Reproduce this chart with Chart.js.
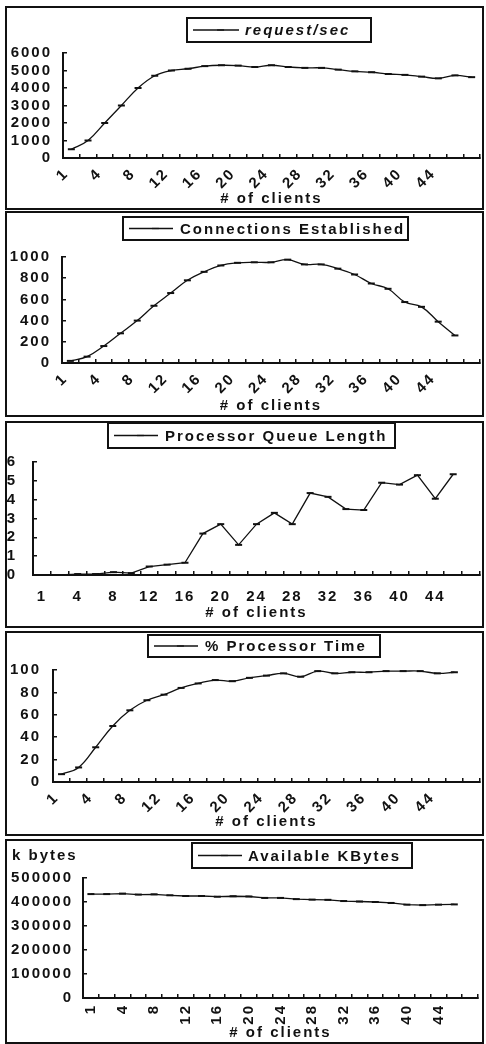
<!DOCTYPE html>
<html>
<head>
<meta charset="utf-8">
<script src="https://cdn.jsdelivr.net/npm/chart.js@4.4.0/dist/chart.umd.min.js"></script>
<style>
  html, body { margin: 0; padding: 0; background: #fff; }
  body { width: 486px; height: 1044px; position: relative; overflow: hidden; }
  canvas { position: absolute; left: 0; }
  .frame { position: absolute; left: 5px; width: 479px; border: 2px solid #111; box-sizing: border-box; pointer-events: none; }
</style>
</head>
<body>

<canvas id="reqChart" width="486" height="204" style="top:6px"></canvas>
<canvas id="connChart" width="486" height="206" style="top:211px"></canvas>
<canvas id="queueChart" width="486" height="207" style="top:421px"></canvas>
<canvas id="cpuChart" width="486" height="205" style="top:631px"></canvas>
<canvas id="memChart" width="486" height="205" style="top:839px"></canvas>

<div class="frame" style="top:6px;height:204px"></div>
<div class="frame" style="top:211px;height:206px"></div>
<div class="frame" style="top:421px;height:207px"></div>
<div class="frame" style="top:631px;height:205px"></div>
<div class="frame" style="top:839px;height:205px"></div>

<script>
// ---------- data ----------
const clients = [1, 2, 4, 6, 8, 10, 12, 14, 16, 18, 20, 22, 24, 26, 28, 30, 32, 34, 36, 38, 40, 42, 44, 46, 48];
const shownClients = [1, 4, 8, 12, 16, 20, 24, 28, 32, 36, 40, 44];

const requestsPerSec = [500, 1000, 2000, 3000, 4000, 4700, 5000, 5100, 5250, 5300, 5280, 5200, 5300, 5200, 5150, 5150, 5050, 4950, 4900, 4800, 4750, 4650, 4550, 4720, 4620];
const connections = [20, 60, 160, 280, 400, 540, 660, 780, 860, 920, 945, 950, 950, 975, 930, 930, 890, 835, 750, 700, 575, 530, 390, 260];
const queueLength = [0, 0, 0.05, 0.05, 0.15, 0.1, 0.45, 0.55, 0.65, 2.2, 2.7, 1.6, 2.7, 3.3, 2.7, 4.35, 4.15, 3.5, 3.45, 4.9, 4.8, 5.3, 4.05, 5.35];
const processorTime = [7, 13, 31, 50, 64, 73, 78, 84, 88, 91, 90, 93, 95, 97, 94, 99, 97, 98, 98, 99, 99, 99, 97, 98];
const availableKB = [433000, 433000, 435000, 431000, 432000, 428000, 425000, 425000, 422000, 424000, 423000, 417000, 417000, 412000, 410000, 409000, 404000, 402000, 400000, 396000, 389000, 387000, 389000, 390000];

const reqTicks = [0, 1000, 2000, 3000, 4000, 5000, 6000];
const connTicks = [0, 200, 400, 600, 800, 1000];
const queueTicks = [0, 1, 2, 3, 4, 5, 6];
const cpuTicks = [0, 20, 40, 60, 80, 100];
const memTicks = [0, 100000, 200000, 300000, 400000, 500000];

// ---------- look ----------
const INK = "#111";
Chart.defaults.font.family = "'Liberation Sans', Arial, sans-serif";
Chart.defaults.font.size = 15;
Chart.defaults.font.weight = "bold";
Chart.defaults.color = INK;

// legend box + free text, drawn where the original has them
const boxLegend = {
    id: "boxLegend",
    beforeDraw(chart) {
        chart.ctx.letterSpacing = "2px";
    },
    afterDraw(chart, args, opts) {
        const ctx = chart.ctx;
        const ds = chart.data.datasets[0];
        const cy = opts.y + opts.h / 2;
        ctx.save();
        ctx.strokeStyle = INK;
        ctx.lineWidth = 2;
        ctx.strokeRect(opts.x, opts.y, opts.w, opts.h);

        ctx.lineWidth = ds.borderWidth;
        ctx.beginPath();
        ctx.moveTo(opts.x + 6, cy);
        ctx.lineTo(opts.x + 6 + opts.lineLen, cy);
        ctx.stroke();
        Chart.helpers.drawPoint(ctx, {
            pointStyle: ds.pointStyle,
            radius: ds.pointRadius,
            borderWidth: ds.pointBorderWidth,
            rotation: 0
        }, opts.x + 6 + opts.lineLen * 0.6, cy);

        ctx.fillStyle = INK;
        ctx.letterSpacing = "2px";
        ctx.font = (opts.italic ? "italic " : "") + "bold 15px 'Liberation Sans', Arial, sans-serif";
        ctx.textBaseline = "middle";
        ctx.textAlign = "left";
        ctx.fillText(ds.label, opts.x + opts.textX, cy + 1);

        if (opts.note) {
            ctx.fillText(opts.note, opts.noteX, opts.noteY);
        }
        ctx.restore();
    }
};

function makeChart(id, p) {
    new Chart(document.getElementById(id), {
        type: "line",
        data: {
            labels: clients,
            datasets: [{
                label: p.label,
                data: p.values,
                borderColor: INK,
                borderWidth: 1.3,
                tension: p.tension,
                pointStyle: "line",
                pointRadius: 3.5,
                pointBorderWidth: 2,
                pointBorderColor: INK,
                fill: false
            }]
        },
        options: {
            responsive: false,
            animation: false,
            layout: { padding: { left: 0, top: p.top, right: 486 - p.right, bottom: 0 } },
            plugins: {
                legend: { display: false },
                tooltip: { enabled: false },
                boxLegend: p.legend
            },
            scales: {
                x: {
                    offset: true,
                    grid: { offset: true, drawOnChartArea: false, tickLength: -4, color: INK, lineWidth: 1.5 },
                    border: { color: INK, width: 2 },
                    ticks: {
                        autoSkip: false,
                        minRotation: p.rotation,
                        maxRotation: p.rotation,
                        padding: p.xPad,
                        labelOffset: p.xShift,
                        callback: (v, i) => shownClients.includes(clients[i]) ? String(clients[i]) : ""
                    },
                    title: {
                        display: true,
                        text: "# of clients",
                        padding: { top: 0, bottom: p.titlePad }
                    },
                    afterFit: s => {
                        s.height = p.height - p.bottom;
                        s.paddingLeft = 0;
                        s.paddingRight = 0;
                    }
                },
                y: {
                    min: p.yTicks[0],
                    max: p.yTicks[p.yTicks.length - 1],
                    grid: { drawOnChartArea: false, tickLength: -4, color: INK, lineWidth: 1.5 },
                    border: { color: INK, width: 2 },
                    afterBuildTicks: s => { s.ticks = p.yTicks.map(v => ({ value: v })); },
                    ticks: {
                        autoSkip: false,
                        padding: p.yPad,
                        callback: v => String(v)
                    },
                    afterFit: s => { s.width = p.left; }
                }
            }
        },
        plugins: [boxLegend]
    });
}

makeChart("reqChart", {
    label: "request/sec", values: requestsPerSec, yTicks: reqTicks, tension: 0.4,
    height: 204, top: 47, bottom: 152, left: 63, right: 481,
    rotation: 45, xPad: 11, xShift: -5, yPad: 15, titlePad: 2,
    legend: { x: 187, y: 12, w: 184, h: 24, lineLen: 46, textX: 58, italic: true }
});

makeChart("connChart", {
    label: "Connections Established", values: connections, yTicks: connTicks, tension: 0.4,
    height: 206, top: 46, bottom: 152, left: 62, right: 482,
    rotation: 45, xPad: 11, xShift: -5, yPad: 15, titlePad: 2,
    legend: { x: 123, y: 6, w: 285, h: 23, lineLen: 44, textX: 57 }
});

makeChart("queueChart", {
    label: "Processor Queue Length", values: queueLength, yTicks: queueTicks, tension: 0,
    height: 207, top: 41, bottom: 154, left: 33, right: 482,
    rotation: 0, xPad: 17, xShift: 0, yPad: 20, titlePad: 6,
    legend: { x: 108, y: 2, w: 287, h: 25, lineLen: 44, textX: 57 }
});

makeChart("cpuChart", {
    label: "% Processor Time", values: processorTime, yTicks: cpuTicks, tension: 0.4,
    height: 205, top: 39, bottom: 151, left: 53, right: 480,
    rotation: 45, xPad: 11, xShift: -5, yPad: 16, titlePad: 5,
    legend: { x: 148, y: 4, w: 232, h: 22, lineLen: 44, textX: 57 }
});

makeChart("memChart", {
    label: "Available KBytes", values: availableKB, yTicks: memTicks, tension: 0,
    height: 205, top: 39, bottom: 159, left: 83, right: 478,
    rotation: 90, xPad: 10, xShift: 0, yPad: 14, titlePad: 2,
    legend: { x: 192, y: 4, w: 220, h: 25, lineLen: 44, textX: 56, note: "k bytes", noteX: 12, noteY: 17 }
});
</script>
</body>
</html>
